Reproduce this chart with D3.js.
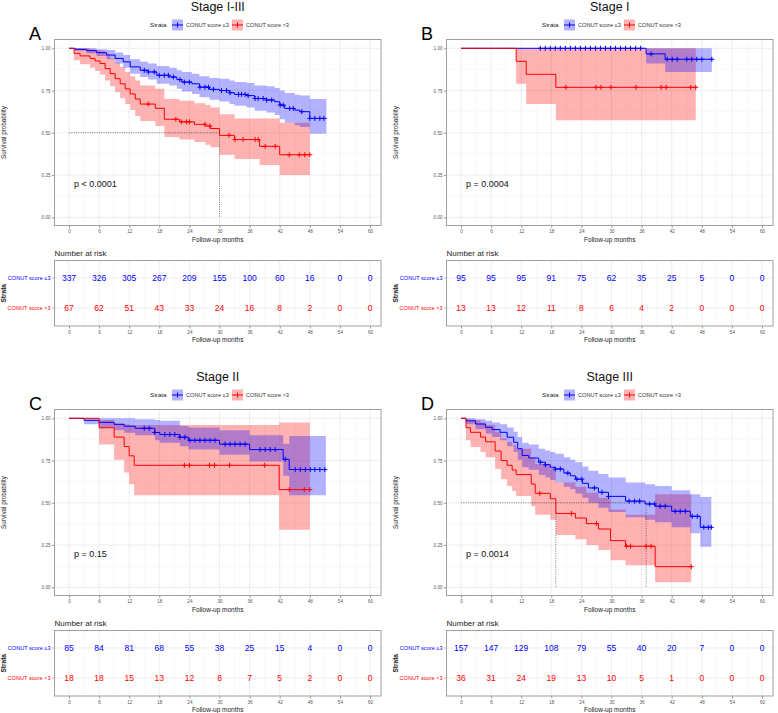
<!DOCTYPE html>
<html>
<head>
<meta charset="utf-8">
<script src="https://cdn.jsdelivr.net/npm/d3@7"></script>
<style>
  body { margin: 0; background: #fff; }
  svg { display: block; }
  text { font-family: "Liberation Sans", Arial, sans-serif; }
</style>
</head>
<body>
<div id="chart"></div>
<script>
// shared axes / labels
var months = [0, 6, 12, 18, 24, 30, 36, 42, 48, 54, 60];
var minorMonths = [3, 9, 15, 21, 27, 33, 39, 45, 51, 57];
var survTicks = [0, 0.25, 0.5, 0.75, 1];
var survMinor = [0.125, 0.375, 0.625, 0.875];
var strata = ['CONUT score \u22643', 'CONUT score >3'];
var colors = ['#0000ff', '#ff0000'];

// ---- A: Stage I-III
var a_low_time  = [0, 1.2, 3.5, 5.5, 7.5, 9.2, 10.8, 12.2, 14.2, 15.8, 17.5, 20, 21.5, 22.5, 24.5, 26, 28, 30, 32, 33, 35.4, 37, 39.4, 41, 42, 43, 45, 46, 48];
var a_low_surv  = [1, .994, .986, .974, .96, .94, .92, .89, .87, .86, .84, .83, .815, .80, .79, .77, .757, .75, .737, .727, .72, .703, .694, .684, .664, .644, .634, .625, .585];
var a_low_upper = [1, 1, 1, .995, .99, .975, .96, .935, .92, .91, .895, .885, .87, .86, .85, .835, .825, .82, .81, .80, .795, .78, .775, .765, .75, .735, .725, .72, .70];
var a_low_lower = [1, .985, .97, .955, .935, .91, .885, .85, .83, .815, .79, .78, .76, .745, .73, .71, .695, .685, .67, .66, .65, .63, .62, .605, .58, .56, .545, .535, .495];
var a_low_end = 51.3;
var a_low_cens = [15, 15.8, 17, 18, 19, 19.8, 20.8, 22.1, 23, 24, 26.1, 27.1, 27.8, 28.8, 30.4, 31.4, 32.1, 33.8, 34.4, 35.1, 35.7, 37.1, 37.7, 38.7, 39.4, 40.4, 42.1, 42.7, 44, 44.7, 46.4, 48, 49, 50, 50.8];

var a_high_time  = [0, 1, 2.2, 4.2, 5.2, 6.2, 7.2, 8.2, 9.2, 10.2, 11.2, 12.2, 13.2, 14.2, 17.2, 19, 22, 25, 27.2, 28.2, 30, 33, 38, 42];
var a_high_surv  = [1, .97, .955, .94, .925, .91, .88, .85, .82, .79, .76, .73, .70, .67, .645, .58, .565, .55, .54, .525, .485, .46, .42, .37];
var a_high_upper = [1, 1, 1, .995, .99, .985, .965, .94, .915, .89, .86, .835, .81, .78, .76, .70, .69, .675, .665, .65, .61, .585, .585, .56];
var a_high_lower = [1, .93, .905, .885, .865, .845, .81, .775, .74, .705, .67, .635, .60, .57, .54, .475, .46, .445, .43, .415, .37, .345, .31, .25];
var a_high_end = 48;
var a_high_cens = [15.8, 21.3, 22.4, 23.4, 24, 27.1, 28.1, 31.9, 33.1, 34.7, 37.1, 37.7, 39.1, 41.1, 43.9, 45.9, 47, 48];

var a_risk_low  = [337, 326, 305, 267, 209, 155, 100, 60, 16, 0, 0];
var a_risk_high = [67, 62, 51, 43, 33, 24, 16, 8, 2, 0, 0];
var a_median = [30];

// ---- B: Stage I
var b_low_time  = [0, 36.9, 40.7];
var b_low_surv  = [1, .967, .935];
var b_low_upper = [1, 1, 1];
var b_low_lower = [1, .91, .86];
var b_low_end = 50;
var b_low_cens = [15.8, 16.8, 17.8, 18.8, 19.8, 20.8, 21.8, 22.8, 23.8, 24.8, 25.8, 26.8, 27.8, 28.8, 29.8, 30.8, 31.8, 32.8, 33.8, 34.8, 35.8, 37.9, 41.1, 42.1, 43.1, 45, 46, 47, 48, 50];

var b_high_time  = [0, 11, 13, 18.9];
var b_high_surv  = [1, .923, .846, .769];
var b_high_upper = [1, 1, 1, 1];
var b_high_lower = [1, .79, .67, .575];
var b_high_end = 46.8;
var b_high_cens = [20.9, 26.9, 27.9, 29.9, 34.9, 39.9, 40.9, 45.8, 46.8];

var b_risk_low  = [95, 95, 95, 91, 75, 62, 35, 25, 5, 0, 0];
var b_risk_high = [13, 13, 12, 11, 8, 6, 4, 2, 0, 0, 0];
var b_median = [];

// ---- C: Stage II
var c_low_time  = [0, 3, 6, 9, 11, 13.2, 17.1, 18.1, 22.1, 23.8, 30, 36, 42.7, 43.9];
var c_low_surv  = [1, .988, .976, .964, .953, .941, .916, .904, .888, .87, .847, .815, .757, .697];
var c_low_upper = [1, 1, 1, 1, 1, .995, .99, .985, .955, .945, .93, .90, .85, .895];
var c_low_lower = [1, .965, .945, .93, .915, .90, .87, .855, .835, .815, .785, .745, .66, .545];
var c_low_end = 51.2;
var c_low_cens = [15, 16, 17.1, 19.1, 20.1, 21.1, 22.1, 23.1, 24.1, 25.1, 26.1, 27.1, 28.1, 29.1, 31.1, 32.1, 33.1, 34.1, 35.1, 38.1, 39.1, 40.1, 41.1, 43.1, 45.1, 46.1, 47.1, 48.1, 49, 50, 51];

var c_high_time  = [0, 6, 9, 11, 12, 13, 41.9];
var c_high_surv  = [1, .944, .889, .833, .778, .722, .578];
var c_high_upper = [1, .99, .97, .965, .96, .96, .975];
var c_high_lower = [1, .845, .755, .68, .61, .545, .34];
var c_high_end = 48;
var c_high_cens = [23, 24, 28, 29, 32, 39, 43.9, 46.9, 48];

var c_risk_low  = [85, 84, 81, 68, 55, 38, 25, 15, 4, 0, 0];
var c_risk_high = [18, 18, 15, 13, 12, 8, 7, 5, 2, 0, 0];
var c_median = [];

// ---- D: Stage III
var d_low_time  = [0, 1, 2.9, 4.9, 6.2, 7.8, 9.2, 10.5, 11.3, 12.2, 13.5, 15.5, 16.8, 17.8, 18.8, 20.5, 21.8, 22.8, 24.2, 25.4, 27.4, 29.4, 32.8, 36.7, 38.7, 42, 45.7, 47.7];
var d_low_surv  = [1, .985, .966, .947, .933, .917, .888, .858, .82, .78, .765, .74, .725, .71, .70, .676, .66, .64, .615, .588, .562, .538, .51, .493, .48, .45, .42, .355];
var d_low_upper = [1, 1, .995, .985, .975, .965, .945, .92, .89, .855, .845, .82, .81, .80, .79, .77, .755, .74, .715, .69, .67, .65, .62, .61, .60, .575, .55, .535];
var d_low_lower = [1, .965, .935, .91, .89, .87, .835, .80, .755, .71, .695, .665, .65, .635, .62, .595, .58, .555, .53, .50, .47, .445, .415, .40, .385, .355, .32, .24];
var d_low_end = 49.9;
var d_low_cens = [15.8, 16.8, 18.8, 19.8, 21.3, 23.1, 24.1, 26.6, 28.1, 29.4, 33.5, 34.6, 35.6, 37.6, 38.6, 39.7, 40.7, 42.7, 43.7, 44.7, 46.1, 47.1, 48.4, 49.3, 49.9];

var d_high_time  = [0, 1, 1.9, 3.9, 4.9, 6.8, 8, 9.2, 10.2, 11, 14, 14.8, 17.8, 18.9, 22.8, 25, 27.4, 29.8, 32.8, 38.7];
var d_high_surv  = [1, .944, .917, .889, .861, .806, .75, .722, .694, .667, .611, .556, .524, .437, .41, .377, .345, .276, .243, .122];
var d_high_upper = [1, .995, .99, .975, .96, .92, .88, .86, .84, .82, .77, .73, .70, .62, .595, .56, .53, .46, .43, .55];
var d_high_lower = [1, .87, .83, .80, .77, .70, .64, .60, .57, .54, .48, .43, .40, .31, .285, .25, .22, .16, .13, .03];
var d_high_end = 45.9;
var d_high_cens = [15.7, 22, 27, 33, 33.8, 36.9, 37.9, 45.9];

var d_risk_low  = [157, 147, 129, 108, 79, 55, 40, 20, 7, 0, 0];
var d_risk_high = [36, 31, 24, 19, 13, 10, 5, 1, 0, 0, 0];
var d_median = [18.9, 36.9];

function curve(time, surv, lower, upper, end, cens) {
  var pts = time.map(function(t, i) {
    return { t: t, s: surv[i], lo: lower[i], up: upper[i] };
  });
  var last = pts[pts.length - 1];
  pts.push({ t: end, s: last.s, lo: last.lo, up: last.up });
  return { pts: pts, cens: cens };
}

function survAt(c, t) {
  var v = c.pts[0].s;
  c.pts.forEach(function(p) { if (p.t <= t) v = p.s; });
  return v;
}

var panels = [
  { ox: 0, oy: 0, title: 'Stage I-III', tag: 'A', p: 'p < 0.0001', median: a_median,
    curves: [curve(a_low_time, a_low_surv, a_low_lower, a_low_upper, a_low_end, a_low_cens),
             curve(a_high_time, a_high_surv, a_high_lower, a_high_upper, a_high_end, a_high_cens)],
    risk: [a_risk_low, a_risk_high] },
  { ox: 392, oy: 0, title: 'Stage I', tag: 'B', p: 'p = 0.0004', median: b_median,
    curves: [curve(b_low_time, b_low_surv, b_low_lower, b_low_upper, b_low_end, b_low_cens),
             curve(b_high_time, b_high_surv, b_high_lower, b_high_upper, b_high_end, b_high_cens)],
    risk: [b_risk_low, b_risk_high] },
  { ox: 0, oy: 370, title: 'Stage II', tag: 'C', p: 'p = 0.15', median: c_median,
    curves: [curve(c_low_time, c_low_surv, c_low_lower, c_low_upper, c_low_end, c_low_cens),
             curve(c_high_time, c_high_surv, c_high_lower, c_high_upper, c_high_end, c_high_cens)],
    risk: [c_risk_low, c_risk_high] },
  { ox: 392, oy: 370, title: 'Stage III', tag: 'D', p: 'p = 0.0014', median: d_median,
    curves: [curve(d_low_time, d_low_surv, d_low_lower, d_low_upper, d_low_end, d_low_cens),
             curve(d_high_time, d_high_surv, d_high_lower, d_high_upper, d_high_end, d_high_cens)],
    risk: [d_risk_low, d_risk_high] }
];

var svg = d3.select('#chart').append('svg')
  .attr('width', 778)
  .attr('height', 713);

var L = 54.5, R = 381, T = 39.5, B = 225.5;      // plot frame
var TT = 260.5, TB = 326;                         // risk table frame
var rowY = [278, 308];

panels.forEach(function(p) {
  var g = svg.append('g').attr('transform', 'translate(' + p.ox + ',' + p.oy + ')');
  var x = d3.scaleLinear().domain([0, 60]).range([69, 370]);
  var y = d3.scaleLinear().domain([0, 1]).range([217.3, 48.3]);

  // title, tag, legend
  g.append('text').attr('x', (L + R) / 2).attr('y', 11)
    .attr('text-anchor', 'middle').attr('font-size', 12.5).attr('fill', '#111')
    .text(p.title);
  g.append('text').attr('x', 29).attr('y', 40)
    .attr('font-size', 18).attr('fill', '#000').text(p.tag);

  g.append('text').attr('x', 150).attr('y', 27.2)
    .attr('font-size', 6.2).attr('fill', '#222').text('Strata');
  [172, 232].forEach(function(kx, i) {
    g.append('rect').attr('x', kx).attr('y', 19.5).attr('width', 11).attr('height', 11)
      .attr('fill', colors[i]).attr('fill-opacity', 0.3);
    g.append('path').attr('d', 'M' + kx + ',25H' + (kx + 11) + 'M' + (kx + 5.5) + ',22.5V27.5')
      .attr('stroke', colors[i]).attr('stroke-width', 1);
    g.append('text').attr('x', kx + 14).attr('y', 27)
      .attr('font-size', 5.6).attr('fill', '#333').text(strata[i]);
  });

  // grid
  var grid = g.append('g');
  minorMonths.forEach(function(m) {
    grid.append('line').attr('x1', x(m)).attr('x2', x(m)).attr('y1', T).attr('y2', B)
      .attr('stroke', '#f2f2f2').attr('stroke-width', 0.5);
  });
  survMinor.forEach(function(s) {
    grid.append('line').attr('x1', L).attr('x2', R).attr('y1', y(s)).attr('y2', y(s))
      .attr('stroke', '#f2f2f2').attr('stroke-width', 0.5);
  });
  months.forEach(function(m) {
    grid.append('line').attr('x1', x(m)).attr('x2', x(m)).attr('y1', T).attr('y2', B)
      .attr('stroke', '#e6e6e6').attr('stroke-width', 0.7);
  });
  survTicks.forEach(function(s) {
    grid.append('line').attr('x1', L).attr('x2', R).attr('y1', y(s)).attr('y2', y(s))
      .attr('stroke', '#e6e6e6').attr('stroke-width', 0.7);
  });

  // confidence bands (red under, blue over)
  var area = d3.area().curve(d3.curveStepAfter)
    .x(function(d) { return x(d.t); })
    .y0(function(d) { return y(d.lo); })
    .y1(function(d) { return y(d.up); });
  [1, 0].forEach(function(i) {
    g.append('path').attr('d', area(p.curves[i].pts))
      .attr('fill', colors[i]).attr('fill-opacity', 0.3);
  });

  // median lines
  if (p.median.length) {
    var mmax = d3.max(p.median);
    g.append('line').attr('x1', x(0)).attr('x2', x(mmax)).attr('y1', y(0.5)).attr('y2', y(0.5))
      .attr('stroke', '#333').attr('stroke-width', 0.6).attr('stroke-dasharray', '1,1.3');
    p.median.forEach(function(m) {
      g.append('line').attr('x1', x(m)).attr('x2', x(m)).attr('y1', y(0.5)).attr('y2', y(0))
        .attr('stroke', '#333').attr('stroke-width', 0.6).attr('stroke-dasharray', '1,1.3');
    });
  }

  // survival curves + censor marks
  var line = d3.line().curve(d3.curveStepAfter)
    .x(function(d) { return x(d.t); })
    .y(function(d) { return y(d.s); });
  p.curves.forEach(function(c, i) {
    g.append('path').attr('d', line(c.pts))
      .attr('fill', 'none').attr('stroke', colors[i]).attr('stroke-width', 1);
    g.selectAll('.cens' + i).data(c.cens).enter().append('path')
      .attr('transform', function(t) { return 'translate(' + x(t) + ',' + y(survAt(c, t)) + ')'; })
      .attr('d', 'M-2.5,0H2.5M0,-2.5V2.5')
      .attr('stroke', colors[i]).attr('stroke-width', 1);
  });

  g.append('text').attr('x', 74).attr('y', 187)
    .attr('font-size', 9).attr('fill', '#111').text(p.p);

  // frame + axes
  g.append('rect').attr('x', L).attr('y', T).attr('width', R - L).attr('height', B - T)
    .attr('fill', 'none').attr('stroke', '#a0a0a0').attr('stroke-width', 1);

  var xa = g.append('g').attr('transform', 'translate(0,' + B + ')')
    .call(d3.axisBottom(x).tickValues(months).tickSize(2.5).tickPadding(2));
  var ya = g.append('g').attr('transform', 'translate(' + L + ',0)')
    .call(d3.axisLeft(y).tickValues(survTicks).tickFormat(d3.format('.2f')).tickSize(2.5).tickPadding(1.5));
  [xa, ya].forEach(function(a) {
    a.select('.domain').remove();
    a.selectAll('line').attr('stroke', '#999');
    a.selectAll('text').attr('font-size', 4.6).attr('fill', '#555')
      .attr('font-family', '"Liberation Sans", Arial, sans-serif');
  });

  g.append('text').attr('x', (L + R) / 2).attr('y', 241.5)
    .attr('text-anchor', 'middle').attr('font-size', 6.5).attr('fill', '#1a1a1a')
    .text('Follow-up months');
  g.append('text').attr('transform', 'translate(6,' + (T + B) / 2 + ') rotate(-90)')
    .attr('text-anchor', 'middle').attr('font-size', 6.3).attr('fill', '#1a1a1a')
    .text('Survival probability');

  // ---- risk table
  g.append('text').attr('x', L).attr('y', 256)
    .attr('font-size', 8).attr('fill', '#222').text('Number at risk');

  var tg = g.append('g');
  minorMonths.forEach(function(m) {
    tg.append('line').attr('x1', x(m)).attr('x2', x(m)).attr('y1', TT).attr('y2', TB)
      .attr('stroke', '#f2f2f2').attr('stroke-width', 0.5);
  });
  months.forEach(function(m) {
    tg.append('line').attr('x1', x(m)).attr('x2', x(m)).attr('y1', TT).attr('y2', TB)
      .attr('stroke', '#e6e6e6').attr('stroke-width', 0.7);
  });
  rowY.forEach(function(ry) {
    tg.append('line').attr('x1', L).attr('x2', R).attr('y1', ry).attr('y2', ry)
      .attr('stroke', '#e6e6e6').attr('stroke-width', 0.7);
  });

  p.risk.forEach(function(r, i) {
    g.selectAll('.risk' + i).data(r).enter().append('text')
      .attr('x', function(d, j) { return x(months[j]); })
      .attr('y', rowY[i] + 3)
      .attr('text-anchor', 'middle').attr('font-size', 8.5)
      .attr('fill', colors[i])
      .text(function(d) { return d; });
    g.append('text').attr('x', 50.5).attr('y', rowY[i] + 2)
      .attr('text-anchor', 'end').attr('font-size', 5.6).attr('fill', colors[i])
      .text(strata[i]);
    g.append('line').attr('x1', 52).attr('x2', L).attr('y1', rowY[i]).attr('y2', rowY[i])
      .attr('stroke', '#999').attr('stroke-width', 0.7);
  });

  g.append('rect').attr('x', L).attr('y', TT).attr('width', R - L).attr('height', TB - TT)
    .attr('fill', 'none').attr('stroke', '#a0a0a0').attr('stroke-width', 1);

  var ta = g.append('g').attr('transform', 'translate(0,' + TB + ')')
    .call(d3.axisBottom(x).tickValues(months).tickSize(2.5).tickPadding(2));
  ta.select('.domain').remove();
  ta.selectAll('line').attr('stroke', '#999');
  ta.selectAll('text').attr('font-size', 4.6).attr('fill', '#555')
    .attr('font-family', '"Liberation Sans", Arial, sans-serif');

  g.append('text').attr('x', (L + R) / 2).attr('y', 342)
    .attr('text-anchor', 'middle').attr('font-size', 6.5).attr('fill', '#1a1a1a')
    .text('Follow-up months');
  g.append('text').attr('transform', 'translate(6,' + (TT + TB) / 2 + ') rotate(-90)')
    .attr('text-anchor', 'middle').attr('font-size', 6.5).attr('font-weight', 'bold')
    .attr('fill', '#1a1a1a').text('Strata');
});
</script>
</body>
</html>
